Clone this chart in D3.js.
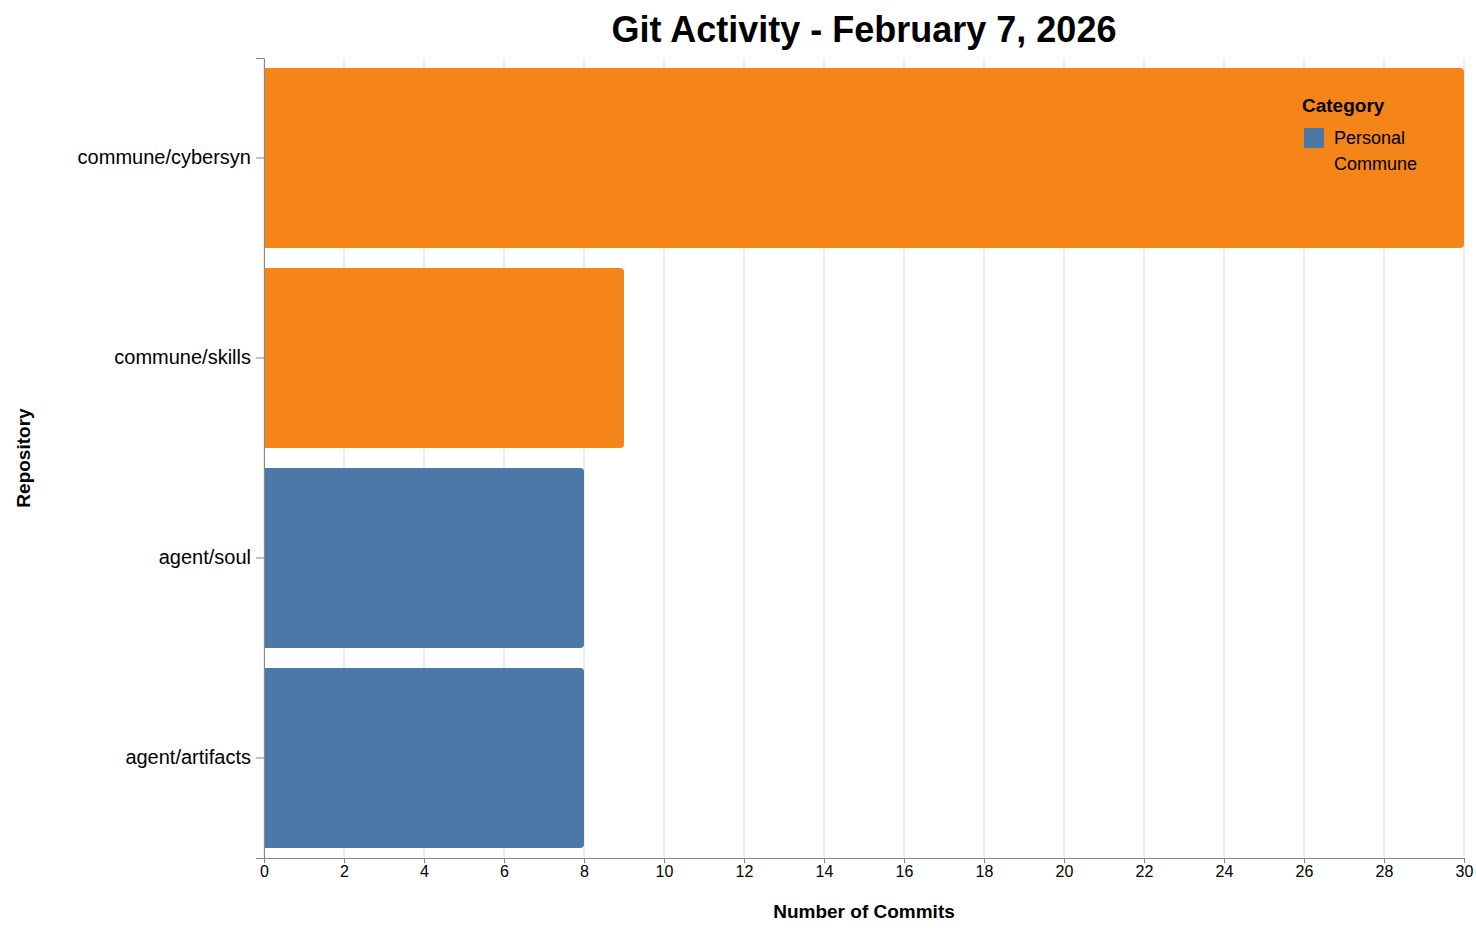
<!DOCTYPE html><html><head><script src="https://cdn.jsdelivr.net/npm/d3@7"></script>
<style>body{margin:0;background:#fff}text{font-family:"Liberation Sans",Arial,sans-serif}</style></head><body>
<svg id="c" width="1476" height="932"></svg>
<script>
const repos=["commune/cybersyn","commune/skills","agent/soul","agent/artifacts"];
const commits=[30,9,8,8];
const categories=["Commune","Commune","Personal","Personal"];
const legendCats=["Personal","Commune"];
const colors={Personal:"#4c78a8",Commune:"#f58518"};
const xTicks=d3.range(0,31,2);
const svg=d3.select("#c");
const L=264,R=1464,T=58,B=858;
const x=d3.scaleLinear().domain([0,30]).range([L,R]);
const y=d3.scaleBand().domain(repos).range([T,B]).paddingInner(0.1).paddingOuter(0.05);
const g=svg.append("g");
g.selectAll(".gl").data(xTicks).join("line").attr("x1",d=>x(d)).attr("x2",d=>x(d)).attr("y1",T).attr("y2",B).attr("stroke","#ddd");
const r=4;
g.selectAll(".bar").data(repos).join("path").attr("fill",(d,i)=>colors[categories[i]]).attr("d",(d,i)=>{
 const x0=x(0),x1=x(commits[i]),y0=y(d),y1=y0+y.bandwidth();
 return `M${x0},${y0}H${x1-r}Q${x1},${y0} ${x1},${y0+r}V${y1-r}Q${x1},${y1} ${x1-r},${y1}H${x0}Z`;});
const xa=svg.append("g").attr("transform",`translate(0,${B})`).call(d3.axisBottom(x).tickValues(xTicks).tickSize(5).tickPadding(3));
const ya=svg.append("g").attr("transform",`translate(${L},0)`).call(d3.axisLeft(y).tickSize(8).tickPadding(5));
[xa,ya].forEach(a=>{a.selectAll("path,line").attr("stroke","#888");a.selectAll("text").attr("fill","#000").style("font-family","Liberation Sans, Arial");});
xa.selectAll("text").attr("font-size",16);
ya.selectAll("text").attr("font-size",20);
svg.append("text").attr("x",864).attr("y",918).attr("text-anchor","middle").attr("font-weight","bold").attr("font-size",19).text("Number of Commits");
svg.append("text").attr("transform","translate(30,458) rotate(-90)").attr("text-anchor","middle").attr("font-weight","bold").attr("font-size",19).text("Repository");
svg.append("text").attr("x",864).attr("y",42).attr("text-anchor","middle").attr("font-weight","bold").attr("font-size",36).text("Git Activity - February 7, 2026");
const lg=svg.append("g").attr("transform","translate(1302,0)");
lg.append("text").attr("x",0).attr("y",112).attr("font-weight","bold").attr("font-size",19).text("Category");
legendCats.forEach((c,i)=>{
 lg.append("rect").attr("x",2).attr("y",128+i*26).attr("width",20).attr("height",20).attr("fill",colors[c]);
 lg.append("text").attr("x",32).attr("y",144+i*26).attr("font-size",18).text(c);
});
</script></body></html>
